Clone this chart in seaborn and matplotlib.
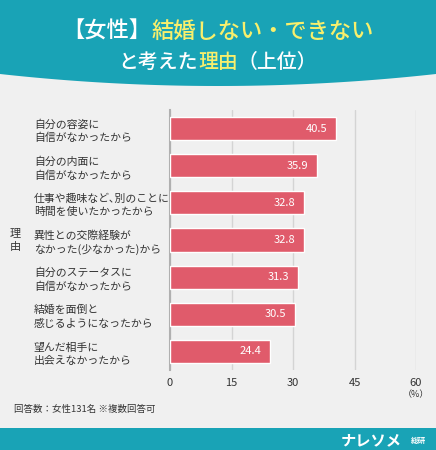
import numpy as np
import pandas as pd
import matplotlib.pyplot as plt
import seaborn as sns
from matplotlib.patches import Polygon, Rectangle

# データ
reasons = [
    "自分の容姿に\n自信がなかったから",
    "自分の内面に\n自信がなかったから",
    "仕事や趣味など､別のことに\n時間を使いたかったから",
    "異性との交際経験が\nなかった(少なかった)から",
    "自分のステータスに\n自信がなかったから",
    "結婚を面倒と\n感じるようになったから",
    "望んだ相手に\n出会えなかったから",
]
values = [40.5, 35.9, 32.8, 32.8, 31.3, 30.5, 24.4]
xticks = [0, 15, 30, 45, 60]

df = pd.DataFrame({"reason": reasons, "value": values})

W, H = 436, 450
bg = "#f0f0f0"
teal = "#19a3b6"
bar_color = "#e05b6b"
yellow = "#f8ef6c"

sns.set_theme(style="white")
plt.rcParams["font.family"] = ["Noto Sans CJK JP", "DejaVu Sans"]

fig = plt.figure(figsize=(W / 100, H / 100), dpi=100, facecolor=bg)

# ヘッダー（下辺がゆるいカーブ）
xs = np.linspace(0, W, 60)
ys = 86 - 12 * ((xs - W / 2) / (W / 2)) ** 2
pts = [(0, 0)] + [(x, y) for x, y in zip(xs, ys)] + [(W, 0)]
pts = [(x / W, 1 - y / H) for x, y in pts]
fig.patches.append(Polygon(pts, closed=True, transform=fig.transFigure,
                           facecolor=teal, edgecolor="none", zorder=0))
# フッター
fig.patches.append(Rectangle((0, 0), 1, 22 / H, transform=fig.transFigure,
                             facecolor=teal, edgecolor="none", zorder=0))


def title_line(parts, ypix, size):
    texts = [fig.text(0, 1 - ypix / H, s, color=c, fontsize=size, fontweight="medium",
                      ha="left", va="center") for s, c in parts]
    r = fig.canvas.get_renderer()
    widths = [t.get_window_extent(r).width for t in texts]
    x = (W - sum(widths)) / 2
    for t, w in zip(texts, widths):
        t.set_x(x / W)
        x += w


title_line([("【女性】", "white"), ("結婚しない・できない", yellow)], 31, 16)
title_line([("と考えた", "white"), ("理由", yellow), ("（上位）", "white")], 62, 14.3)

# グラフ
ax = fig.add_axes([170 / W, 1 - 370 / H, 246 / W, 260 / H])
ax.set_facecolor(bg)
sns.barplot(data=df, x="value", y="reason", color=bar_color, width=0.62,
            saturation=1, ax=ax, zorder=3)

ax.set_xlim(0, 60)
ax.set_xticks(xticks)
ax.grid(axis="x", color="#d4d4d4", linewidth=1, zorder=0)
for s in ["top", "right", "bottom"]:
    ax.spines[s].set_visible(False)
ax.spines["left"].set_color("#b0b0b0")
ax.spines["left"].set_linewidth(1.5)
ax.set_xlabel("")
ax.set_ylabel("")

ax.tick_params(axis="x", length=0, pad=6, labelsize=8, labelcolor="#333333")
ax.tick_params(axis="y", length=0, pad=98, labelsize=7.8, labelcolor="#333333")
for lab in ax.get_yticklabels():
    lab.set_ha("left")
    lab.set_linespacing(1.4)

for cont in ax.containers:
    ax.bar_label(cont, labels=[f"{v:.1f}" for v in values], padding=-22,
                 color="white", fontsize=8)

fig.text(416 / W, 1 - 395 / H, "（%）", fontsize=6.5, color="#333333",
         ha="center", va="center")
fig.text(15 / W, 1 - 240 / H, "理\n由", fontsize=8, color="#333333",
         ha="center", va="center", linespacing=1.5)
fig.text(14 / W, 1 - 409 / H, "回答数：女性131名 ※複数回答可", fontsize=6.8,
         color="#333333", ha="left", va="center")

# ロゴ
fig.text(402 / W, 1 - 440 / H, "ナレソメ", fontsize=11, fontweight="bold",
         color="white", ha="right", va="center")
fig.text(426 / W, 1 - 440 / H, "総研", fontsize=5.5, fontweight="bold",
         color="white", ha="right", va="center")

fig.savefig("out.png", dpi=100, facecolor=bg)
